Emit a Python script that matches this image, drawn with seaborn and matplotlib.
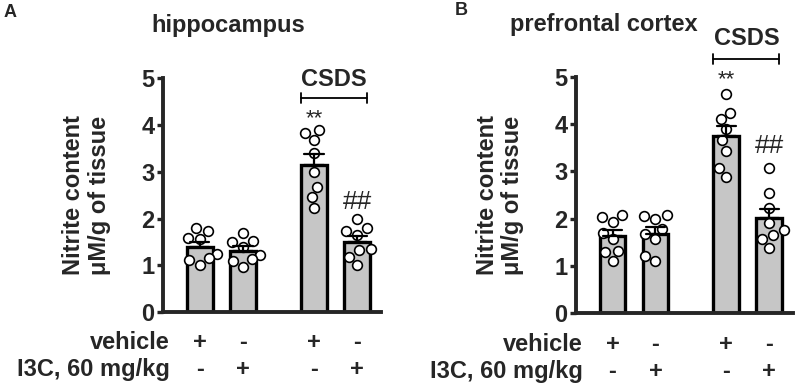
import numpy as np
import pandas as pd
import seaborn as sns
import matplotlib.pyplot as plt

# Individual animals (nitrite, uM/g of tissue)
groups = ['veh', 'i3c', 'csds_veh', 'csds_i3c']
vehicle_row = ['+', '-', '+', '-']
i3c_row = ['-', '+', '-', '+']

hippo_veh = [1.79, 1.73, 1.59, 1.56, 1.24, 1.15, 1.11, 1.01]
hippo_i3c = [1.70, 1.53, 1.50, 1.40, 1.22, 1.13, 1.10, 0.97]
hippo_csds_veh = [3.90, 3.83, 3.68, 3.39, 3.00, 2.68, 2.46, 2.22]
hippo_csds_i3c = [2.00, 1.80, 1.73, 1.66, 1.35, 1.34, 1.19, 1.01]

pfc_veh = [2.08, 2.04, 1.94, 1.70, 1.56, 1.32, 1.30, 1.11]
pfc_i3c = [2.08, 2.05, 2.00, 1.78, 1.68, 1.58, 1.21, 1.11]
pfc_csds_veh = [4.63, 4.24, 4.10, 3.89, 3.66, 3.44, 3.08, 2.89]
pfc_csds_i3c = [3.08, 2.55, 2.22, 1.91, 1.75, 1.65, 1.56, 1.37]

panels = [
    ('A', 'hippocampus', [hippo_veh, hippo_i3c, hippo_csds_veh, hippo_csds_i3c]),
    ('B', 'prefrontal cortex', [pfc_veh, pfc_i3c, pfc_csds_veh, pfc_csds_i3c]),
]

# layout
xpos = [0, 1, 2.65, 3.65]
ax_rects = [[0.2048, 0.1888, 0.2739, 0.6086], [0.7236, 0.1862, 0.2726, 0.6146]]
csds_y = [(4.57, 4.97), (5.37, 5.80)]
star_y = [4.13, 4.94]
hash_y = [2.35, 3.53]
title_xy = [(0.30, 1.226), (0.13, 1.219)]
letter_xy = [(0.013, 0.968), (0.579, 0.972)]

sns.set_style('ticks')
plt.rcParams['font.family'] = ['Liberation Sans', 'DejaVu Sans']
plt.rcParams['font.weight'] = 'bold'

fig = plt.figure(figsize=(7.96, 3.85), dpi=100)


def sem_interval(v):
    # one-sided error bar: mean up to mean + SEM
    v = np.asarray(v)
    m = v.mean()
    return m, m + v.std(ddof=1) / np.sqrt(len(v))


for i, (letter, title, series) in enumerate(panels):
    ax = fig.add_axes(ax_rects[i])
    rows = []
    for g, p, vals in zip(groups, xpos, series):
        for v in vals:
            rows.append({'group': g, 'x': p, 'value': v})
    df = pd.DataFrame(rows)

    sns.barplot(data=df, x='x', y='value', native_scale=True, width=0.6,
                color='#c6c6c6', saturation=1, edgecolor='black', linewidth=2.4,
                errorbar=sem_interval, capsize=0.45,
                err_kws={'color': 'black', 'linewidth': 1.6, 'zorder': 5}, ax=ax)
    sns.swarmplot(data=df, x='x', y='value', native_scale=True, size=7,
                  color='white', edgecolor='black', linewidth=1.2, zorder=4, ax=ax)

    ax.set_xlim(-0.85, 4.2)
    ax.set_ylim(0, 5)
    ax.set_yticks(range(6))
    ax.set_xticks([])
    ax.set_xlabel('')
    ax.set_ylabel('Nitrite content\nμM/g of tissue', fontsize=17, fontweight='bold',
                  linespacing=1.15, va='center')
    ax.yaxis.set_label_coords(-0.35, 0.50)
    ax.tick_params(axis='y', length=4.5, width=2.4, labelsize=17, pad=1.5)
    for lab in ax.get_yticklabels():
        lab.set_fontweight('bold')
    sns.despine(ax=ax)
    for s in ['left', 'bottom']:
        ax.spines[s].set_linewidth(2.8)
    ax.spines['left'].set_bounds(0, 5)

    ax.text(*title_xy[i], title, transform=ax.transAxes, ha='center', va='center',
            fontsize=17, fontweight='bold')
    fig.text(*letter_xy[i], letter, ha='center', va='center', fontsize=13, fontweight='bold')

    # CSDS bracket
    yb, yt = csds_y[i]
    x0, x1 = xpos[2] - 0.3, xpos[3] + 0.23
    ax.plot([x0, x1], [yb, yb], color='black', lw=1.3, clip_on=False)
    for xx in (x0, x1):
        ax.plot([xx, xx], [yb - 0.1, yb + 0.1], color='black', lw=1.3, clip_on=False)
    ax.text((x0 + x1) / 2, yt, 'CSDS', ha='center', va='center', fontsize=17,
            fontweight='bold', clip_on=False)

    ax.text(xpos[2], star_y[i], '**', ha='center', va='center', fontsize=16,
            fontweight='normal', clip_on=False)
    ax.text(xpos[3], hash_y[i], '##', ha='center', va='center', fontsize=19,
            fontweight='normal', clip_on=False)

    # treatment table under the axis
    ax.text(-0.7, -0.65, 'vehicle', ha='right', va='center', fontsize=17, fontweight='bold')
    ax.text(-0.7, -1.22, 'I3C, 60 mg/kg', ha='right', va='center', fontsize=17,
            fontweight='bold')
    for p, a, b in zip(xpos, vehicle_row, i3c_row):
        ax.text(p, -0.65, a, ha='center', va='center', fontsize=17, fontweight='bold')
        ax.text(p, -1.22, b, ha='center', va='center', fontsize=17, fontweight='bold')

plt.savefig('out.png', dpi=100)
plt.close()
